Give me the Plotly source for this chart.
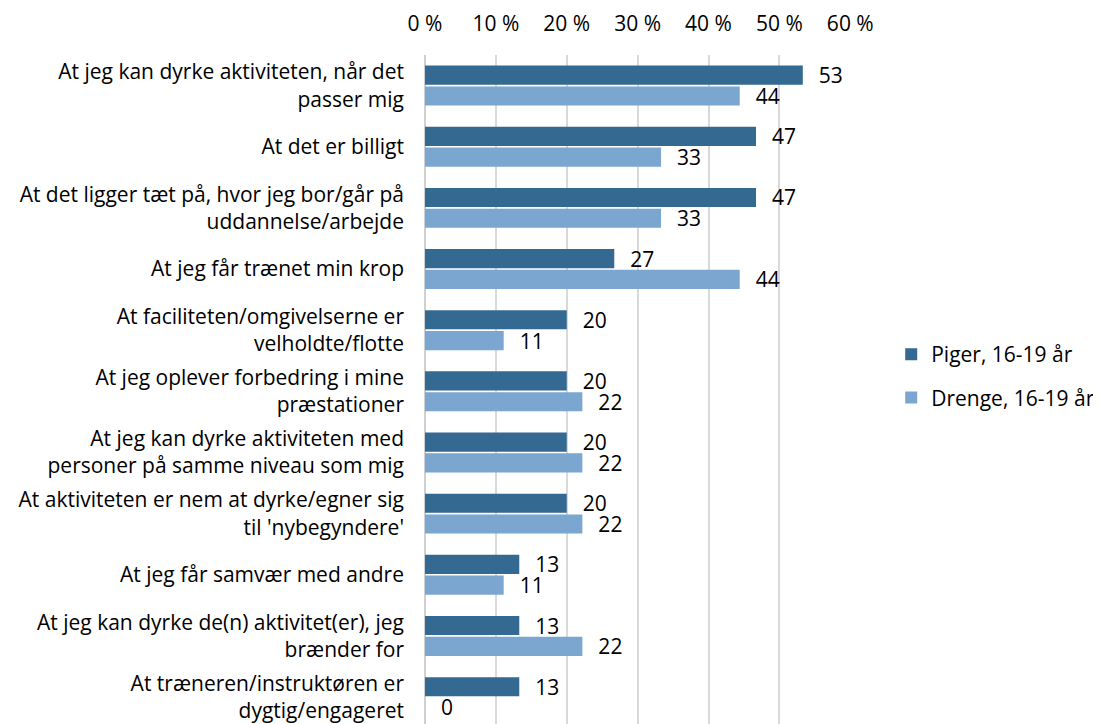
import plotly.graph_objects as go

# Categories, top to bottom as in the chart
categories = [
    "At jeg kan dyrke aktiviteten, når det<br>passer mig",
    "At det er billigt",
    "At det ligger tæt på, hvor jeg bor/går på<br>uddannelse/arbejde",
    "At jeg får trænet min krop",
    "At faciliteten/omgivelserne er<br>velholdte/flotte",
    "At jeg oplever forbedring i mine<br>præstationer",
    "At jeg kan dyrke aktiviteten med<br>personer på samme niveau som mig",
    "At aktiviteten er nem at dyrke/egner sig<br>til 'nybegyndere'",
    "At jeg får samvær med andre",
    "At jeg kan dyrke de(n) aktivitet(er), jeg<br>brænder for",
    "At træneren/instruktøren er<br>dygtig/engageret",
]

piger = [53.3, 46.7, 46.7, 26.7, 20.0, 20.0, 20.0, 20.0, 13.3, 13.3, 13.3]
drenge = [44.4, 33.3, 33.3, 44.4, 11.1, 22.2, 22.2, 22.2, 11.1, 22.2, 0.0]

x_ticks = [0, 10, 20, 30, 40, 50, 60]
x_ticktext = ["0 %", "10 %", "20 %", "30 %", "40 %", "50 %", "60 %"]

FONT = "Open Sans"
SIZE = 21
DARK = "#346a92"
LIGHT = "#7aa6cf"

# page body has an 8px margin, so the figure is sized to fit inside the window
fig = go.Figure()

fig.add_trace(go.Bar(
    y=categories, x=piger, orientation="h",
    name="Piger, 16-19 år", legendgroup="a",
    marker=dict(color=DARK, line=dict(width=0)),
    texttemplate="\u00a0\u00a0\u200a%{x:.0f}", textposition="outside",
    constraintext="none", cliponaxis=False,
    textfont=dict(family=FONT, size=SIZE, color="#000000"),
))

fig.add_trace(go.Bar(
    y=categories, x=drenge, orientation="h",
    name="Drenge, 16-19 år", legendgroup="b",
    marker=dict(color=LIGHT, line=dict(width=0)),
    texttemplate="\u00a0\u00a0\u200a%{x:.0f}", textposition="outside",
    constraintext="none", cliponaxis=False,
    textfont=dict(family=FONT, size=SIZE, color="#000000"),
))

fig.update_layout(
    width=1093, height=716,
    margin=dict(l=417, r=250, t=47, b=0),
    barmode="group", bargap=0.32, bargroupgap=0.08,
    plot_bgcolor="white", paper_bgcolor="white",
    font=dict(family=FONT, size=SIZE, color="#000000"),
    xaxis=dict(
        side="top", range=[0, 60.1], tickvals=x_ticks, ticktext=x_ticktext,
        showgrid=True, gridcolor="#d9d9d9", gridwidth=2,
        zeroline=True, zerolinecolor="#d0d0d0", zerolinewidth=2,
        ticks="", ticklabelstandoff=19, automargin=False,
        tickfont=dict(family=FONT, size=SIZE),
    ),
    yaxis=dict(
        categoryorder="array", categoryarray=categories,
        range=[10.44, -0.5], showgrid=False, zeroline=False,
        ticks="", ticklabelstandoff=20, automargin=False,
        tickfont=dict(family=FONT, size=SIZE),
    ),
    legend=dict(
        x=1.585, xanchor="right", y=0.52, yanchor="middle",
        tracegroupgap=13, traceorder="grouped",
        font=dict(family=FONT, size=SIZE),
        itemwidth=30,
    ),
    showlegend=True,
)

fig.write_html("out.html")
